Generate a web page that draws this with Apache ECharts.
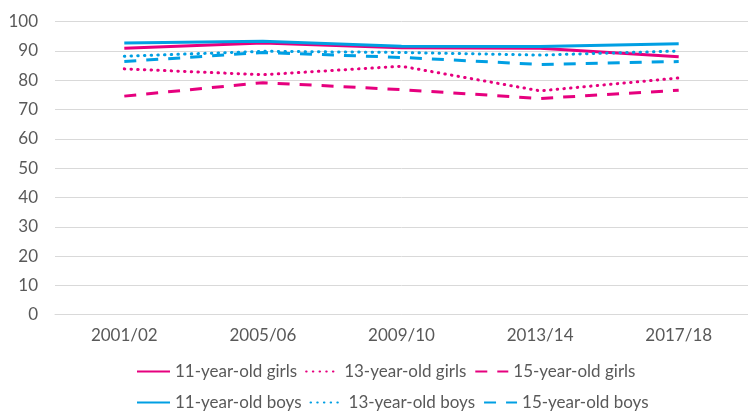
<!DOCTYPE html>
<html>
<head>
<meta charset="utf-8">
<script src="https://cdn.jsdelivr.net/npm/echarts@6/dist/echarts.min.js"></script>
<style>
  html, body { margin: 0; padding: 0; background: #fff; }
  #chart { width: 748px; height: 414px; }
</style>
</head>
<body>
<div id="chart"></div>
<script>
// survey waves
var categories = ["2001/02", "2005/06", "2009/10", "2013/14", "2017/18"];

// percentages per group
var girls11 = [90.9, 92.7, 91.1, 90.9, 88.0];
var girls13 = [83.9, 81.9, 84.8, 76.4, 80.8];
var girls15 = [74.6, 79.2, 76.8, 73.8, 76.6];
var boys11 = [92.7, 93.3, 91.6, 91.5, 92.5];
var boys13 = [88.2, 89.9, 89.5, 88.6, 90.0];
var boys15 = [86.4, 89.5, 87.8, 85.4, 86.4];

var yTicks = { min: 0, max: 100, interval: 10 };

var PINK = "#e6007e";
var BLUE = "#009fe3";
var FONT = "Lato, 'Noto Sans', sans-serif";
var TEXT = "#595959";

var chart = echarts.init(document.getElementById("chart"));

function line(name, data, color, dash, cap) {
  return {
    name: name,
    type: "line",
    data: data,
    symbol: "none",
    smooth: false,
    lineStyle: { color: color, width: 3, type: dash, cap: cap || "butt" },
    itemStyle: { color: color }
  };
}

var legendText = { color: TEXT, fontFamily: FONT, fontSize: 17 };

function legendRow(names, top) {
  return {
    data: names,
    left: 136, top: top, padding: 0,
    itemWidth: 33, itemHeight: 14, itemGap: 8,
    itemStyle: { opacity: 0 },
    textStyle: legendText
  };
}

chart.setOption({
  animation: false,
  grid: { left: 55, right: -7, top: 21.7, bottom: 99.3, containLabel: false },
  legend: [
    legendRow(["11-year-old girls", "13-year-old girls", "15-year-old girls"], 363),
    legendRow(["11-year-old boys", "13-year-old boys", "15-year-old boys"], 394)
  ],
  xAxis: {
    type: "category",
    data: categories,
    boundaryGap: true,
    axisLine: { show: true, lineStyle: { color: "#d9d9d9", width: 1 } },
    axisTick: { show: false },
    axisLabel: { color: TEXT, fontFamily: FONT, fontSize: 17, margin: 12 }
  },
  yAxis: {
    type: "value",
    min: yTicks.min,
    max: yTicks.max,
    interval: yTicks.interval,
    axisLine: { show: false },
    axisTick: { show: false },
    splitLine: { lineStyle: { color: "#d9d9d9", width: 1 } },
    axisLabel: { color: TEXT, fontFamily: FONT, fontSize: 17, margin: 17 }
  },
  series: [
    line("11-year-old girls", girls11, PINK, "solid"),
    line("13-year-old girls", girls13, PINK, [0.5, 6.2], "round"),
    line("15-year-old girls", girls15, PINK, [12, 10]),
    line("11-year-old boys", boys11, BLUE, "solid"),
    line("13-year-old boys", boys13, BLUE, [0.5, 6.2], "round"),
    line("15-year-old boys", boys15, BLUE, [12, 10])
  ]
});
</script>
</body>
</html>
